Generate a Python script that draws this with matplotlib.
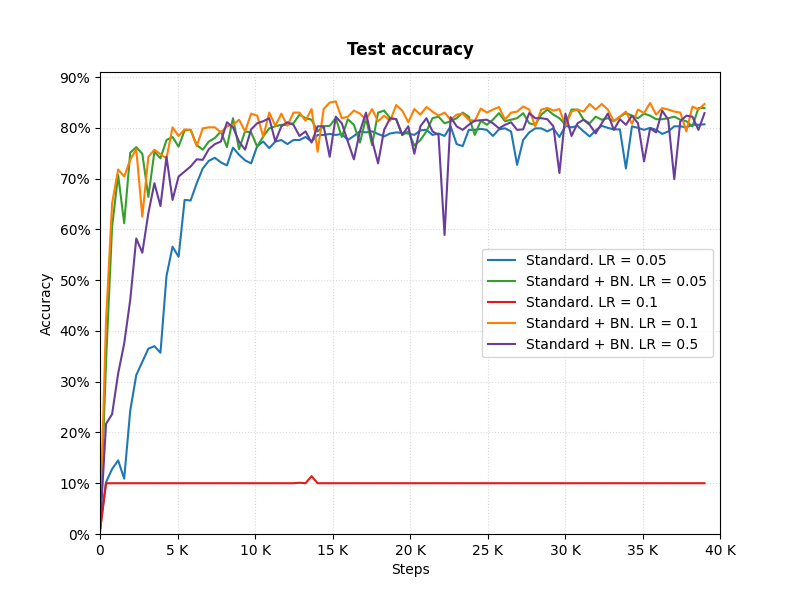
import matplotlib
matplotlib.use('Agg')
import matplotlib.pyplot as plt
from matplotlib.ticker import PercentFormatter, FuncFormatter

# evaluation every 390 training steps
steps = [i * 390 for i in range(101)]

std_lr005 = [
    1.0, 10.2, 12.8, 14.5, 10.9, 24.3, 31.3, 33.9, 36.5, 37.0, 35.7, 50.8, 56.6,
    54.6, 65.8, 65.7, 69.1, 72.0, 73.5, 74.1, 73.2, 72.6, 76.1, 74.7, 73.6, 73.0,
    76.4, 77.3, 76.0, 77.3, 77.6, 76.8, 77.6, 77.6, 78.2, 77.3, 78.6, 78.6,
    78.8, 78.6, 78.8, 77.6, 78.4, 79.3, 79.1, 79.3, 78.8, 78.3, 78.9, 79.1, 79.0,
    78.9, 78.6, 79.5, 79.6, 78.6, 78.9, 78.4, 80.3, 76.8, 76.4, 79.6, 79.6, 79.8,
    79.6, 78.4, 79.7, 79.9, 79.3, 72.7, 77.6, 79.1, 79.9, 79.9, 79.3, 79.9, 78.2,
    80.4, 80.1, 80.4, 79.3, 78.3, 79.5, 80.4, 80.0, 79.7, 79.7, 72.0, 80.3,
    80.0, 79.6, 80.0, 79.6, 78.8, 79.3, 80.3, 80.3, 80.1, 80.6, 80.6, 80.7,
]

bn_lr005 = [
    1.0, 34.0, 60.5, 70.7, 61.2, 75.1, 76.2, 74.9, 66.4, 75.3, 74.0, 77.6, 78.2,
    76.3, 79.5, 79.6, 76.6, 75.7, 77.3, 78.0, 79.3, 76.2, 81.9, 75.8, 79.3, 79.1,
    76.3, 78.3, 79.9, 80.3, 80.6, 80.6, 80.9, 82.6, 81.9, 81.6, 79.3, 80.3,
    80.4, 81.9, 78.2, 81.7, 80.6, 77.1, 81.9, 76.6, 83.0, 83.4, 81.9, 81.7, 78.6,
    79.3, 76.5, 77.6, 79.3, 81.9, 82.2, 80.9, 81.3, 81.9, 83.0, 82.2, 78.6, 81.4,
    80.6, 81.6, 82.9, 81.3, 81.6, 81.9, 82.9, 80.9, 80.6, 82.6, 83.6, 82.6, 81.9,
    80.6, 83.6, 83.6, 81.6, 80.9, 82.2, 81.6, 81.9, 81.3, 82.2, 82.9, 82.4,
    81.9, 82.8, 82.4, 81.7, 81.7, 81.9, 82.2, 81.6, 81.3, 80.3, 83.9, 83.9,
]

std_lr01 = [
    0.5, 10.0, 10.0, 10.0, 10.0, 10.0, 10.0, 10.0, 10.0, 10.0, 10.0, 10.0, 10.0,
    10.0, 10.0, 10.0, 10.0, 10.0, 10.0, 10.0, 10.0, 10.0, 10.0, 10.0, 10.0, 10.0,
    10.0, 10.0, 10.0, 10.0, 10.0, 10.0, 10.0, 10.1, 10.0, 11.4, 10.0, 10.0,
    10.0, 10.0, 10.0, 10.0, 10.0, 10.0, 10.0, 10.0, 10.0, 10.0, 10.0, 10.0, 10.0,
    10.0, 10.0, 10.0, 10.0, 10.0, 10.0, 10.0, 10.0, 10.0, 10.0, 10.0, 10.0, 10.0,
    10.0, 10.0, 10.0, 10.0, 10.0, 10.0, 10.0, 10.0, 10.0, 10.0, 10.0, 10.0, 10.0,
    10.0, 10.0, 10.0, 10.0, 10.0, 10.0, 10.0, 10.0, 10.0, 10.0, 10.0, 10.0,
    10.0, 10.0, 10.0, 10.0, 10.0, 10.0, 10.0, 10.0, 10.0, 10.0, 10.0, 10.0,
]

bn_lr01 = [
    1.0, 42.1, 65.1, 71.8, 70.4, 73.7, 75.8, 62.5, 74.3, 75.7, 74.8, 74.0, 80.1,
    78.4, 79.7, 79.6, 76.4, 79.9, 80.1, 80.1, 79.1, 80.3, 80.6, 81.6, 79.3, 82.8,
    82.4, 78.3, 83.0, 80.4, 82.8, 80.4, 83.0, 83.0, 81.4, 83.7, 75.3, 83.7,
    85.0, 85.2, 81.9, 82.2, 83.4, 82.8, 81.6, 83.7, 81.3, 82.4, 81.4, 84.5, 83.4,
    81.1, 83.7, 82.6, 84.1, 83.2, 82.4, 83.0, 81.6, 82.6, 82.8, 81.6, 81.4, 83.8,
    83.0, 83.6, 84.1, 81.6, 83.0, 83.2, 84.2, 83.6, 80.3, 83.6, 83.9, 83.4, 83.7,
    80.4, 83.2, 83.6, 83.2, 84.7, 83.6, 84.7, 83.6, 81.3, 82.2, 83.2, 80.8,
    83.6, 82.9, 84.9, 82.6, 83.9, 83.6, 83.2, 83.0, 79.3, 84.2, 83.6, 84.7,
]

bn_lr05 = [
    1.0, 21.7, 23.6, 31.6, 37.5, 46.1, 58.2, 55.4, 63.2, 69.1, 64.6, 74.3, 65.8,
    70.4, 71.4, 72.4, 73.8, 73.7, 75.8, 76.8, 77.3, 81.1, 80.1, 77.3, 75.7, 79.7,
    80.9, 81.3, 81.9, 77.3, 80.3, 81.1, 80.6, 78.4, 79.3, 77.1, 80.3, 80.3,
    74.3, 82.2, 80.9, 77.3, 73.8, 79.3, 83.0, 77.6, 73.0, 79.6, 81.9, 81.7, 78.6,
    80.3, 74.9, 80.3, 81.9, 79.3, 78.6, 58.9, 82.1, 80.3, 79.6, 80.6, 81.4, 81.5,
    81.6, 80.9, 79.9, 80.6, 81.1, 79.6, 79.7, 82.9, 81.9, 81.9, 81.7, 80.3, 71.1,
    82.8, 78.4, 80.9, 81.6, 80.6, 78.9, 80.9, 82.8, 79.6, 81.7, 80.6, 82.4,
    80.9, 73.4, 79.9, 79.1, 83.4, 81.6, 69.9, 81.3, 82.4, 82.2, 79.6, 82.9,
]

series = [
    ('Standard. LR = 0.05', std_lr005, '#1f78b4'),
    ('Standard + BN. LR = 0.05', bn_lr005, '#33a02c'),
    ('Standard. LR = 0.1', std_lr01, '#e31a1c'),
    ('Standard + BN. LR = 0.1', bn_lr01, '#ff7f00'),
    ('Standard + BN. LR = 0.5', bn_lr05, '#6a3d9a'),
]

fig, ax = plt.subplots(figsize=(8, 6), dpi=100)
for label, values, color in series:
    ax.plot(steps, values, color=color, linewidth=1.5, label=label)

ax.set_xlim(0, 40000)
ax.set_ylim(0, 91)
ax.set_xticks(range(0, 40001, 5000))
ax.set_yticks(range(0, 91, 10))
ax.xaxis.set_major_formatter(FuncFormatter(lambda v, _: '0' if v == 0 else f'{int(v / 1000)} K'))
ax.yaxis.set_major_formatter(PercentFormatter(xmax=100, decimals=0))
ax.grid(True, linestyle=':', color='#d9d9d9', linewidth=0.8)

ax.set_title('Test accuracy', fontweight='bold', pad=12)
ax.set_xlabel('Steps')
ax.set_ylabel('Accuracy')
ax.legend(loc='center right')

fig.savefig('out.png')
